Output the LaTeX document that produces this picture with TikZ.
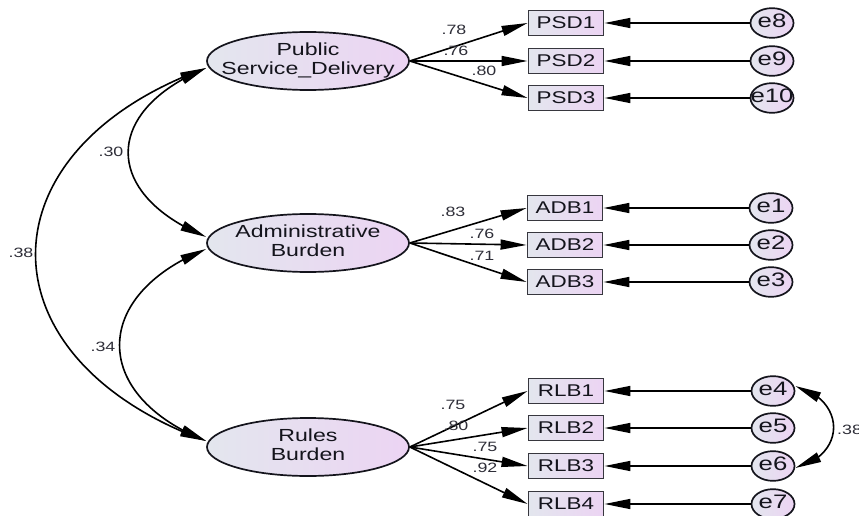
\documentclass[tikz,border=0pt]{standalone}
\usepackage{fontspec}
\setmainfont{Liberation Sans}[FakeStretch=1.32]
\usetikzlibrary{arrows.meta,bending,calc,shapes.geometric}
\definecolor{fillL}{HTML}{E3E6EE}
\definecolor{fillR}{HTML}{ECD4F3}
\definecolor{ink}{HTML}{14141C}
\definecolor{coef}{HTML}{2E2E38}
\newcommand{\ctr}[1]{\makebox[0pt]{\begin{tabular}{@{}c@{}}#1\end{tabular}}}
\tikzset{
  shadedfill/.style={left color=fillL, right color=fillR},
  latent/.style={ellipse, draw=ink, line width=1.7pt, shadedfill,
    minimum width=202pt, minimum height=58pt, inner sep=0pt,
    font=\fontsize{17.5}{19}\selectfont, text=ink},
  indicator/.style={rectangle, draw=ink!85, line width=1.9pt, shadedfill,
    minimum width=75pt, minimum height=25pt, inner sep=0pt,
    font=\fontsize{17}{19}\selectfont, text=ink},
  errterm/.style={ellipse, draw=ink, line width=1.7pt, shadedfill,
    minimum width=43pt, minimum height=29pt, inner sep=0pt,
    font=\fontsize{19.5}{21}\selectfont, text=ink},
  tiphead/.tip={Triangle[length=26pt,width=10pt]},
  link/.style={line width=1.6pt, -tiphead},
  cov/.style={line width=1.6pt, tiphead-tiphead},
  coeflbl/.style={font=\fontsize{13.5}{15}\selectfont, text=coef, inner sep=0pt},
}
\begin{document}
\begin{tikzpicture}[x=1pt, y=-1pt]
\useasboundingbox (0,0) rectangle (859,516);
\fill[white] (0,0) rectangle (859,516);

% latent factors
\node[latent] (psd) at (308,61)  {\ctr{Public\\Service\_Delivery}};
\node[latent] (adb) at (308,243) {\ctr{Administrative\\Burden}};
\node[latent] (rlb) at (308,447) {\ctr{Rules\\Burden}};

% observed indicators
\node[indicator] (psd1) at (566,23)  {PSD1};
\node[indicator] (psd2) at (566,61)  {PSD2};
\node[indicator] (psd3) at (566,98)  {PSD3};
\node[indicator] (adb1) at (565,208) {ADB1};
\node[indicator] (adb2) at (565,245) {ADB2};
\node[indicator] (adb3) at (565,282) {ADB3};
\node[indicator] (rlb1) at (566,391) {RLB1};
\node[indicator] (rlb2) at (566,428) {RLB2};
\node[indicator] (rlb3) at (566,466) {RLB3};
\node[indicator] (rlb4) at (566,504) {RLB4};

% error terms
\node[errterm] (e8)  at (772,23)  {\ctr{e8}};
\node[errterm] (e9)  at (772,61)  {\ctr{e9}};
\node[errterm] (e10) at (772,98)  {\ctr{e10}};
\node[errterm] (e1)  at (771,208) {\ctr{e1}};
\node[errterm] (e2)  at (771,245) {\ctr{e2}};
\node[errterm] (e3)  at (771,282) {\ctr{e3}};
\node[errterm] (e4)  at (773,391) {\ctr{e4}};
\node[errterm] (e5)  at (773,428) {\ctr{e5}};
\node[errterm] (e6)  at (773,466) {\ctr{e6}};
\node[errterm] (e7)  at (773,504) {\ctr{e7}};

% factor loadings
\foreach \f/\i in {psd/psd1,psd/psd2,psd/psd3,adb/adb1,adb/adb2,adb/adb3,
                   rlb/rlb1,rlb/rlb2,rlb/rlb3,rlb/rlb4}
  \draw[link] (\f.east) -- (\i.west);

% error paths
\foreach \e/\i in {e8/psd1,e9/psd2,e10/psd3,e1/adb1,e2/adb2,e3/adb3,
                   e4/rlb1,e5/rlb2,e6/rlb3,e7/rlb4}
  \draw[link] (\e.west) -- (\i.east);

% factor covariances
\draw[cov] ($(psd.west)+(0,7)$) .. controls +(-104,43) and +(-104,-43) .. ($(adb.west)+(0,-6)$);
\draw[cov] ($(psd.west)+(0,7)$) .. controls +(-227,82) and +(-228,-83) .. ($(rlb.west)+(0,-6)$);
\draw[cov] ($(adb.west)+(0,6)$) .. controls +(-115,46) and +(-116,-46) .. ($(rlb.west)+(0,-6)$);
% error covariance
\draw[cov] ($(e4.east)+(0,-5)$) .. controls +(51,14) and +(51,-13) .. ($(e6.east)+(0,2)$);

% coefficients
\node[coeflbl] (c30) at (111,152) {.30};
\node[coeflbl] (c38) at (21,253)  {.38};
\node[coeflbl] (c34) at (103,347) {.34};
\node[coeflbl, anchor=west] (ce46) at (837,430) {.38};

\node[coeflbl] (l1) at (454,30)  {.78};
\node[coeflbl] (l2) at (456,51)  {.76};
\node[coeflbl] (l3) at (484,71)  {.80};
\node[coeflbl] (l4) at (453,212) {.83};
\node[coeflbl] (l5) at (482,234) {.76};
\node[coeflbl] (l6) at (482,256) {.71};
\node[coeflbl] (l7) at (453,405) {.75};
\node[coeflbl] (l8) at (456,426) {.80};
\node[coeflbl] (l9) at (485,447) {.75};
\node[coeflbl] (l10) at (485,468) {.92};
\end{tikzpicture}
\end{document}
